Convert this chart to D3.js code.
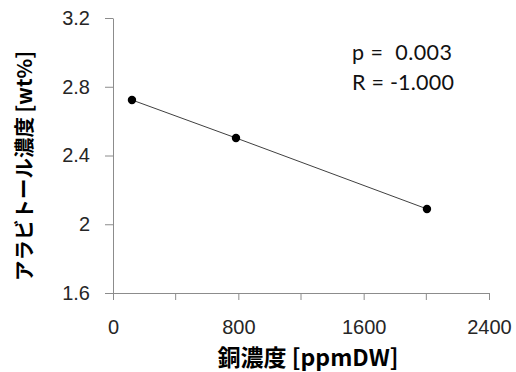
<!DOCTYPE html>
<html><head><meta charset="utf-8">
<script src="https://cdn.jsdelivr.net/npm/d3@7"></script>
<style>
body{margin:0;background:#fff;}
svg{display:block;}
</style></head>
<body>
<script>
const copperPpm = [121, 785, 2004];
const arabitolWt = [2.723, 2.502, 2.089];
const xTicks = [0, 800, 1600, 2400];
const xMinorTicks = [400, 1200, 2000];
const yTicks = [1.6, 2, 2.4, 2.8, 3.2];
const xTitle = "銅濃度 [ppmDW]";
const yTitle = "アラビトール濃度 [wt%]";
const statLines = ["p =  0.003", "R = -1.000"];

const W = 516, H = 372;
const svg = d3.select("body").append("svg").attr("width", W).attr("height", H);

const x = d3.scaleLinear().domain([0, 2400]).range([113, 489]);
const y = d3.scaleLinear().domain([1.6, 3.2]).range([293, 18]);

const axisColor = "#8c8c8c";
const labelFont = "'Liberation Sans', Arial, sans-serif";

// X axis
const gx = svg.append("g").attr("transform", `translate(0,${y(1.6)})`)
  .call(d3.axisBottom(x).tickValues(xTicks).tickFormat(d3.format("d")).tickSize(7).tickSizeOuter(0));
gx.select(".domain").attr("stroke", axisColor);
gx.selectAll(".tick line").attr("stroke", axisColor);
gx.selectAll(".tick text").attr("font-family", labelFont).attr("font-size", 20)
  .attr("fill", "#262626").attr("dy", 0).attr("y", 41);
svg.append("g").attr("transform", `translate(0,${y(1.6)})`)
  .selectAll("line").data(xMinorTicks).join("line")
  .attr("x1", d => x(d)).attr("x2", d => x(d)).attr("y1", 0).attr("y2", 7)
  .attr("stroke", axisColor);

// Y axis
const gy = svg.append("g").attr("transform", `translate(${x(0)},0)`)
  .call(d3.axisLeft(y).tickValues(yTicks).tickFormat(d => String(d)).tickSize(8).tickSizeOuter(0));
gy.select(".domain").attr("stroke", axisColor);
gy.selectAll(".tick line").attr("stroke", axisColor);
gy.selectAll(".tick text").attr("font-family", labelFont).attr("font-size", 20)
  .attr("fill", "#262626").attr("x", -23);

// Line
const pts = copperPpm.map((v, i) => [v, arabitolWt[i]]);
svg.append("path").datum(pts)
  .attr("d", d3.line().x(d => x(d[0])).y(d => y(d[1])))
  .attr("fill", "none").attr("stroke", "#404040").attr("stroke-width", 1);

svg.selectAll("circle.pt").data(pts).join("circle")
  .attr("class", "pt")
  .attr("cx", d => x(d[0])).attr("cy", d => y(d[1])).attr("r", 4.2)
  .attr("fill", "#000");

// Titles
const titleFont = "'Noto Sans CJK JP', 'Noto Sans', sans-serif";
svg.append("text").attr("x", 308).attr("y", 366).attr("text-anchor", "middle")
  .attr("font-family", titleFont).attr("font-weight", "bold").attr("font-size", 23)
  .attr("fill", "#000").text(xTitle);
svg.append("text").attr("transform", `translate(32,166) rotate(-90)`).attr("text-anchor", "middle")
  .attr("font-family", titleFont).attr("font-weight", "bold").attr("font-size", 20.5)
  .attr("fill", "#000").text(yTitle);

// Stats
svg.selectAll("text.stat").data(statLines).join("text")
  .attr("class", "stat")
  .attr("x", 352).attr("y", (d, i) => 60 + i * 30)
  .attr("font-family", "Lato, 'Open Sans', sans-serif").attr("font-size", 21.5)
  .attr("textLength", (d, i) => i === 0 ? 100 : 102).attr("lengthAdjust", "spacing")
  .attr("fill", "#111").style("white-space", "pre").attr("xml:space", "preserve")
  .text(d => d);
</script>
</body></html>
